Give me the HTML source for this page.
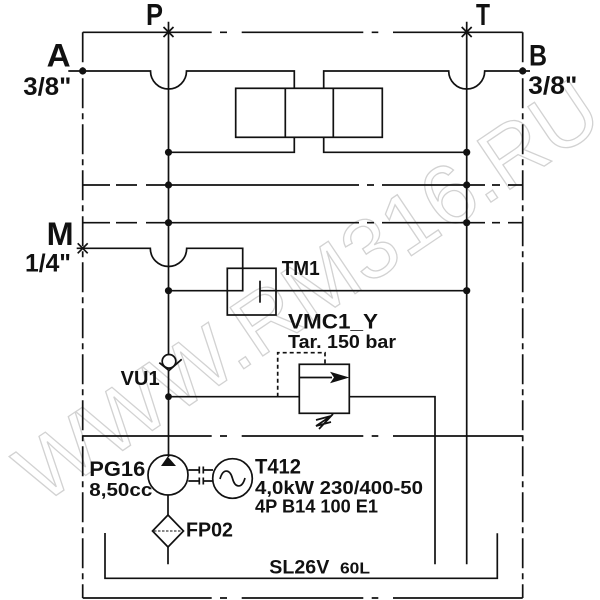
<!DOCTYPE html>
<html><head><meta charset="utf-8"><style>
html,body{margin:0;padding:0;background:#fff;}
svg{display:block;}
text{font-family:"Liberation Sans",Arial,sans-serif;font-weight:bold;fill:#111;}
</style></head><body>
<svg width="600" height="600" viewBox="0 0 600 600" xmlns="http://www.w3.org/2000/svg">
<rect width="600" height="600" fill="#fff"/>
<!-- watermark -->
<g transform="translate(307,290) rotate(-34)">
<text x="0" y="30" text-anchor="middle" font-size="85" textLength="681" lengthAdjust="spacingAndGlyphs" style="fill:none;stroke:#d2d2d2;stroke-width:1.3;font-weight:normal">WWW.RM316.RU</text>
</g>
<g stroke="#111" stroke-width="1.7" fill="none">
<!-- border -->
<path d="M82.7,32.3H211.7 M220,32.3H227 M241.7,32.3H363.3 M371.7,32.3H378.3 M393,32.3H522.7"/>
<path d="M82.7,598H211.7 M220,598H227 M241.7,598H363.3 M371.7,598H378.3 M393,598H522.7"/>
<line x1="82.7" y1="32.3" x2="82.7" y2="598" stroke-dasharray="30 5 6 5"/>
<line x1="522.7" y1="32.3" x2="522.7" y2="598" stroke-dasharray="30 5 6 5"/>
<!-- internal chain lines -->
<path d="M82.7,185H110 M116,185H137 M146,185H359 M367,185H374 M382,185H485 M492,185H500 M508,185H522.7"/>
<path d="M82.7,222.7H110 M116,222.7H137 M146,222.7H359 M367,222.7H374 M382,222.7H485 M492,222.7H500 M508,222.7H522.7"/>
<path d="M82.7,436H211.7 M220,436H227 M241.7,436H363.3 M371.7,436H378.3 M393,436H522.7"/>
<!-- P line -->
<line x1="168.5" y1="21.7" x2="168.5" y2="354.5"/>
<line x1="168.5" y1="370" x2="168.5" y2="457"/>
<path d="M163.5,27L173.5,37 M173.5,27L163.5,37"/>
<!-- T line -->
<line x1="466.7" y1="21.7" x2="466.7" y2="564.3"/>
<path d="M461.7,27L471.7,37 M471.7,27L461.7,37"/>
<!-- A line -->
<path d="M68.3,71H150.5 A18,18 0 0 0 186.5,71 H294.3 V88.3"/>
<!-- B line -->
<path d="M323.7,88.3 V71 H448.7 A18,18 0 0 0 484.7,71 H530"/>
<!-- main valve -->
<rect x="235.7" y="88.3" width="146.6" height="49"/>
<line x1="285.3" y1="88.3" x2="285.3" y2="137.3"/>
<line x1="333.3" y1="88.3" x2="333.3" y2="137.3"/>
<path d="M168.5,152.3H294.3V137.3 M323.7,137.3V152.3H466.7"/>
<!-- M line -->
<path d="M76.7,248.3H150.3 A18.2,18.2 0 0 0 186.7,248.3 H242.7 V290.7 H168.5"/>
<path d="M77.7,243.3L87.7,253.3 M87.7,243.3L77.7,253.3"/>
<!-- TM1 -->
<rect x="227.3" y="268.3" width="48.7" height="46.7"/>
<line x1="260" y1="280.7" x2="260" y2="302.7"/>
<line x1="260" y1="290.7" x2="466.7" y2="290.7"/>
<!-- check valve VU1 -->
<circle cx="169" cy="361.3" r="6.8"/>
<path d="M159.3,362.7L169,370.5L181.7,359.3"/>
<!-- relief valve line -->
<path d="M168.5,396.7H299.3 M349.3,396.7H435V564.3"/>
<rect x="299.3" y="364.3" width="50" height="49"/>
<line x1="299.3" y1="377.5" x2="332" y2="377.5"/>
<path d="M277.7,396.7V352.7H325V364.3" stroke-dasharray="4 3"/>
<path d="M316,420L331,416L316,426L331,422 M319,429L333,414"/>
<!-- pump -->
<circle cx="168" cy="475" r="20"/>
<path d="M168,495V515 M168,547V564.3"/>
<!-- coupling -->
<path d="M188.3,470H199.3 M203.3,470H213 M188.3,481H199.3 M203.3,481H213 M199.3,466.5V473.5 M203.3,466.5V473.5 M199.3,477.5V484.5 M203.3,477.5V484.5"/>
<!-- motor -->
<circle cx="232.5" cy="478.5" r="19.8"/>
<path d="M220,479 C223,468 230,469 232.5,478.5 C235,488 242,489 245,478"/>
<!-- filter -->
<path d="M168,515L183.5,531L168,547L152.5,531Z"/>
<line x1="154" y1="531" x2="182" y2="531" stroke-dasharray="2.5 1.5" stroke-width="1"/>
<!-- tank -->
<path d="M105,533V578.3H497.3V533.3"/>
</g>
<!-- dots -->
<g fill="#111">
<circle cx="82.7" cy="71" r="3.6"/>
<circle cx="522.7" cy="71" r="3.6"/>
<circle cx="168.5" cy="152.3" r="3.6"/>
<circle cx="466.7" cy="152.3" r="3.6"/>
<circle cx="168.5" cy="185" r="3.6"/>
<circle cx="466.7" cy="185" r="3.6"/>
<circle cx="168.5" cy="222.7" r="3.6"/>
<circle cx="466.7" cy="222.7" r="3.6"/>
<circle cx="168.5" cy="290.7" r="3.6"/>
<circle cx="466.7" cy="290.7" r="3.6"/>
<circle cx="168.5" cy="396.7" r="3.4"/>
<path d="M349.3,377.5L330,371.7L334,377.5L330,383.3Z"/>
<path d="M167.7,456.5L176,466H161Z"/>
</g>
<!-- labels -->
<text x="146" y="25" font-size="31" textLength="17" lengthAdjust="spacingAndGlyphs">P</text>
<text x="476" y="25" font-size="31" textLength="14" lengthAdjust="spacingAndGlyphs">T</text>
<text x="46.7" y="66.7" font-size="32" textLength="24" lengthAdjust="spacingAndGlyphs">A</text>
<text x="23.3" y="95" font-size="25" textLength="48" lengthAdjust="spacingAndGlyphs">3/8"</text>
<text x="529" y="65.7" font-size="30" textLength="18" lengthAdjust="spacingAndGlyphs">B</text>
<text x="528.3" y="94" font-size="25" textLength="49" lengthAdjust="spacingAndGlyphs">3/8"</text>
<text x="46.7" y="245" font-size="32" textLength="27" lengthAdjust="spacingAndGlyphs">M</text>
<text x="25" y="271.7" font-size="25" textLength="46" lengthAdjust="spacingAndGlyphs">1/4"</text>
<text x="281.7" y="275" font-size="20" textLength="38" lengthAdjust="spacingAndGlyphs">TM1</text>
<text x="288" y="328.3" font-size="21" textLength="90" lengthAdjust="spacingAndGlyphs">VMC1_Y</text>
<text x="288" y="348" font-size="18" textLength="108" lengthAdjust="spacingAndGlyphs">Tar. 150 bar</text>
<text x="120.7" y="385" font-size="20" textLength="39" lengthAdjust="spacingAndGlyphs">VU1</text>
<text x="89.3" y="476" font-size="21" textLength="56" lengthAdjust="spacingAndGlyphs">PG16</text>
<text x="89.3" y="496" font-size="18" textLength="63" lengthAdjust="spacingAndGlyphs">8,50cc</text>
<text x="255" y="473.3" font-size="21" textLength="46" lengthAdjust="spacingAndGlyphs">T412</text>
<text x="255" y="494" font-size="18" textLength="168" lengthAdjust="spacingAndGlyphs">4,0kW 230/400-50</text>
<text x="255" y="512.7" font-size="18" textLength="123" lengthAdjust="spacingAndGlyphs">4P B14 100 E1</text>
<text x="186" y="536.7" font-size="20" textLength="47" lengthAdjust="spacingAndGlyphs">FP02</text>
<text x="269.3" y="573.3" font-size="19" textLength="60" lengthAdjust="spacingAndGlyphs">SL26V</text>
<text x="340" y="573.3" font-size="16" textLength="30" lengthAdjust="spacingAndGlyphs">60L</text>
</svg>
</body></html>
